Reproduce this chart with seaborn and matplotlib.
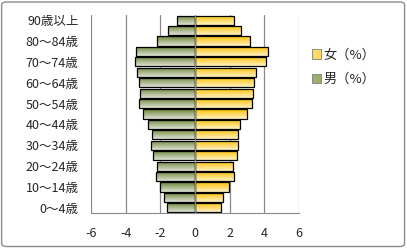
import numpy as np
import pandas as pd
import matplotlib
matplotlib.use("Agg")
import matplotlib.pyplot as plt
import seaborn as sns
from matplotlib.colors import LinearSegmentedColormap
from matplotlib.patches import Patch, FancyBboxPatch

# ========== DATA ==========
# age groups, listed from top of chart to bottom
ages = ["90歳以上", "85～89歳", "80～84歳", "75～79歳", "70～74歳", "65～69歳",
        "60～64歳", "55～59歳", "50～54歳", "45～49歳", "40～44歳", "35～39歳",
        "30～34歳", "25～29歳", "20～24歳", "15～19歳", "10～14歳", "5～9歳", "0～4歳"]
female = [2.27, 2.65, 3.17, 4.23, 4.07, 3.50, 3.42, 3.36, 3.27, 2.98, 2.59,
          2.50, 2.50, 2.40, 2.21, 2.27, 1.96, 1.63, 1.48]
male = [1.02, 1.54, 2.17, 3.40, 3.46, 3.32, 3.23, 3.17, 3.21, 2.98, 2.69,
        2.46, 2.52, 2.40, 2.17, 2.23, 2.00, 1.77, 1.60]
series = ["女（%）", "男（%）"]
x_ticks = [-6, -4, -2, 0, 2, 4, 6]

df = pd.DataFrame({
    "age": ages * 2,
    "value": female + [-v for v in male],
    "sex": [series[0]] * len(ages) + [series[1]] * len(ages),
})

# gradient colours (top, bottom) for each series
grad_colors = {
    series[0]: ("#ffc000", "#fff1c4"),
    series[1]: ("#6a8434", "#dfe3d6"),
}

# ========== PLOT ==========
sns.set_style("white")
plt.rcParams["font.family"] = ["Noto Sans CJK JP", "DejaVu Sans"]

fig = plt.figure(figsize=(4.07, 2.48), dpi=100)
ax = fig.add_axes([0.2236, 0.141, 0.511, 0.799])

sns.barplot(data=df, x="value", y="age", hue="sex", hue_order=series,
            order=ages, dodge=False, orient="h", width=0.88,
            palette=[grad_colors[s][0] for s in series],
            edgecolor="black", linewidth=0.9, legend=False, ax=ax)


def fill_gradient(ax, bar, top_color, bottom_color):
    x0, y0 = bar.get_x(), bar.get_y()
    w, h = bar.get_width(), bar.get_height()
    cmap = LinearSegmentedColormap.from_list("g", [top_color, bottom_color])
    grad = np.linspace(0, 1, 64).reshape(-1, 1)
    im = ax.imshow(grad, cmap=cmap, aspect="auto", origin="upper",
                   extent=(x0, x0 + w, y0 + h, y0), zorder=bar.get_zorder() - 0.1)
    im.set_clip_path(bar)
    bar.set_facecolor("none")


for bar in list(ax.patches):
    if bar.get_height() == 0:
        continue
    key = series[0] if bar.get_width() >= 0 else series[1]
    fill_gradient(ax, bar, *grad_colors[key])

ax.set_xlim(-6, 6)
ax.set_ylim(len(ages) - 0.5, -0.5)
ax.set_xticks(x_ticks)
ax.set_xticklabels([str(t) for t in x_ticks], fontsize=9)
ax.set_yticks(range(0, len(ages), 2))
ax.set_yticklabels(ages[::2], fontsize=9)
ax.set_xlabel("")
ax.set_ylabel("")

# grid and axes
for t in x_ticks:
    ax.axvline(t, color="#8a8a8a", linewidth=0.9, zorder=0)
ax.axvline(0, color="#8a8a8a", linewidth=0.9, zorder=5)
for side in ["top", "right", "left"]:
    ax.spines[side].set_visible(False)
ax.spines["bottom"].set_color("#8a8a8a")
ax.tick_params(axis="x", length=4, color="#8a8a8a", direction="out", pad=6)
ax.tick_params(axis="y", length=0, pad=9)

# legend
handles = [Patch(facecolor="#ffd966", edgecolor="#7f7f7f", linewidth=0.6),
           Patch(facecolor="#9bb06a", edgecolor="#7f7f7f", linewidth=0.6)]
fig.legend(handles, series, loc="upper left", bbox_to_anchor=(0.738, 0.852),
           frameon=False, fontsize=9.5, handlelength=0.7, handleheight=0.7,
           handletextpad=0.15, labelspacing=0.85)

# chart border
fig.patches.append(FancyBboxPatch((0.004, 0.006), 0.99, 0.986,
                                  boxstyle="round,pad=0,rounding_size=0.012",
                                  transform=fig.transFigure, fill=False,
                                  edgecolor="#8c8c8c", linewidth=1))

plt.savefig("out.png", dpi=100)
plt.close()
